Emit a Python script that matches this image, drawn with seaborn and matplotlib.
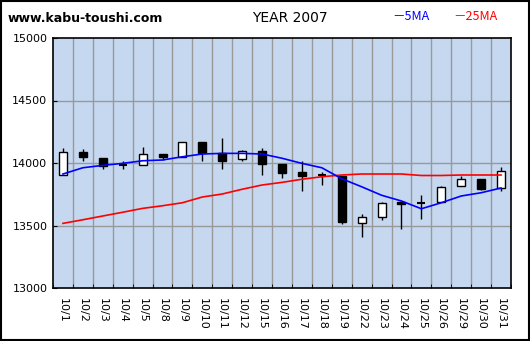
import matplotlib
matplotlib.use("Agg")
import matplotlib.pyplot as plt
import seaborn as sns
import numpy as np
import pandas as pd

dates = ["10/1", "10/2", "10/3", "10/4", "10/5", "10/8", "10/9", "10/10", "10/11", "10/12",
         "10/15", "10/16", "10/17", "10/18", "10/19", "10/22", "10/23", "10/24", "10/25",
         "10/26", "10/29", "10/30", "10/31"]
opens = [13902, 14086, 14040, 13990, 13982, 14072, 14050, 14168, 14077, 14030,
         14096, 13992, 13928, 13908, 13898, 13522, 13570, 13690, 13680,
         13686, 13814, 13872, 13800]
closes = [14086, 14050, 13976, 13984, 14070, 14050, 14166, 14080, 14018, 14094,
          13994, 13922, 13898, 13904, 13530, 13566, 13680, 13674, 13678,
          13806, 13870, 13794, 13934]
highs = [14120, 14112, 14040, 14014, 14130, 14072, 14166, 14168, 14200, 14104,
         14120, 13992, 14016, 13925, 13898, 13592, 13688, 13700, 13744,
         13816, 13896, 13872, 13968]
lows = [13902, 14018, 13952, 13954, 13982, 14024, 14050, 14018, 13954, 14018,
        13906, 13882, 13776, 13824, 13512, 13410, 13544, 13472, 13554,
        13686, 13814, 13784, 13774]
ma5 = [13912, 13962, 13981, 13997, 14018, 14024, 14050, 14072, 14077, 14077,
       14072, 14038, 13997, 13962, 13874, 13810, 13742, 13696, 13634,
       13682, 13736, 13762, 13800]
ma25 = [13517, 13546, 13576, 13606, 13637, 13658, 13682, 13728, 13752, 13790,
        13824, 13845, 13870, 13890, 13904, 13912, 13912, 13912, 13900,
        13900, 13904, 13904, 13904]

df = pd.DataFrame({"x": np.arange(len(dates)), "ma5": ma5, "ma25": ma25})

plt.rcParams['font.family'] = ['DejaVu Sans', 'Noto Sans CJK JP']
fig = plt.figure(figsize=(5.30, 3.41), dpi=100)
ax = fig.add_axes([53/530, 53/341, 458/530, 250/341])
ax.set_facecolor("#C6D8F0")

# grid
for v in [13500, 14000, 14500]:
    ax.axhline(v, color="#999999", lw=1.0, zorder=1)
for k in range(1, len(dates)):
    ax.axvline(k - 0.5, color="#999999", lw=1.0, zorder=1)

x = np.arange(len(dates))
o = np.array(opens); c = np.array(closes)
ax.vlines(x, lows, highs, color="black", lw=1, zorder=3)
bottoms = np.minimum(o, c)
heights = np.abs(c - o)
colors = ["white" if cc > oo else "black" for oo, cc in zip(o, c)]
for i in range(len(x)):
    if abs(c[i] - o[i]) < 8:
        ax.hlines((o[i] + c[i]) / 2, x[i] - 0.2, x[i] + 0.2, color="black", lw=1.5, zorder=4)
    else:
        ax.bar(x[i], heights[i], bottom=bottoms[i], width=0.4, color=colors[i],
               edgecolor="black", lw=1, zorder=4)

sns.lineplot(data=df, x="x", y="ma25", color="#FF0000", lw=1.2, ax=ax, zorder=5)
sns.lineplot(data=df, x="x", y="ma5", color="#0000FF", lw=1.2, ax=ax, zorder=5)

ax.set_xlim(-0.5, len(dates) - 0.5)
ax.set_ylim(13000, 15000)
ax.set_yticks([13000, 13500, 14000, 14500, 15000])
ax.set_yticklabels(["13000", "13500", "14000", "14500", "15000"], fontsize=8)
ax.set_xticks(x)
ax.set_xticklabels(dates, rotation=270, fontsize=8)
ax.set_xticks(np.arange(len(dates) + 1) - 0.5, minor=True)
ax.tick_params(axis="x", which="major", length=0, pad=7)
ax.tick_params(axis="x", which="minor", length=3, direction="in")
ax.tick_params(axis="y", length=3, direction="in", pad=4)
ax.set_xlabel(""); ax.set_ylabel("")
for s in ax.spines.values():
    s.set_color("black"); s.set_linewidth(1.2)

fig.text(8/530, 1 - 18/341, "www.kabu-toushi.com", fontsize=9, fontweight="bold", va="center", ha="left")
fig.text(290/530, 1 - 18/341, "YEAR 2007", fontsize=10, va="center", ha="center")
fig.text(392/530, 1 - 16/341, "－5MA", fontsize=9, color="#0000FF", va="center", ha="left",
         family=['Noto Sans CJK JP', 'DejaVu Sans'])
fig.text(453/530, 1 - 16/341, "－25MA", fontsize=9, color="#FF0000", va="center", ha="left",
         family=['Noto Sans CJK JP', 'DejaVu Sans'])

border = plt.Rectangle((0.001, 0.002), 0.997, 0.996, transform=fig.transFigure,
                       fill=False, edgecolor="black", lw=1.5)
fig.patches.append(border)

fig.savefig("out.png", dpi=100)
